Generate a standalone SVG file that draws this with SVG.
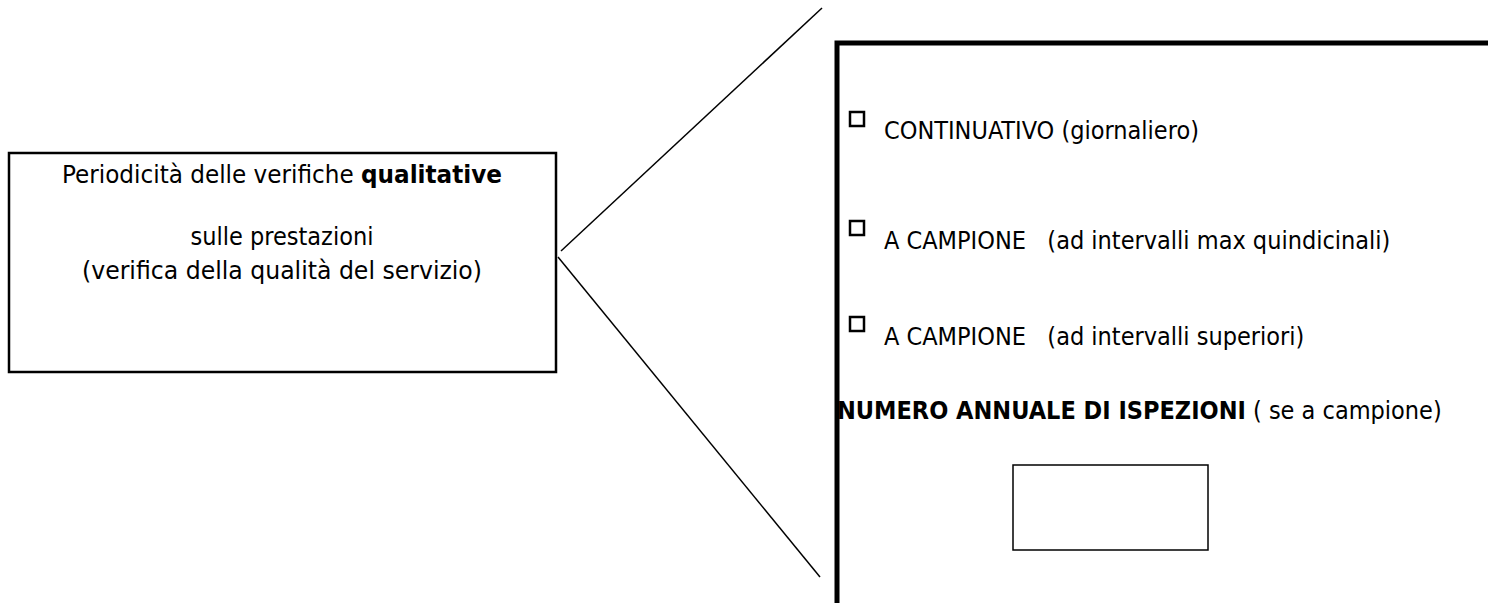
<svg xmlns="http://www.w3.org/2000/svg" width="1488" height="603" viewBox="0 0 1488 603">
<style>
.t{font-family:"DejaVu Sans Condensed","DejaVu Sans",sans-serif;font-size:25px;fill:#000}
.b{font-weight:bold}
.cb{fill:#fff;stroke:#000;stroke-width:2.5}
</style>
<rect width="1488" height="603" fill="#fff"/>
<g id="connectors" stroke="#000" stroke-width="1.5" fill="none">
<line x1="561" y1="251" x2="822" y2="8"/>
<line x1="558" y1="257" x2="820" y2="577"/>
</g>
<g id="node-left">
<rect x="9" y="153" width="547" height="219" fill="#fff" stroke="#000" stroke-width="2.5"/>
<text class="t" x="282" y="183" text-anchor="middle" textLength="440" lengthAdjust="spacingAndGlyphs">Periodicità delle verifiche <tspan class="b">qualitative</tspan></text>
<text class="t" x="282" y="245" text-anchor="middle">sulle prestazioni</text>
<text class="t" x="282" y="279" text-anchor="middle" textLength="400" lengthAdjust="spacingAndGlyphs">(verifica della qualità del servizio)</text>
</g>
<g id="node-right">
<path d="M837 603 V43 H1488" fill="none" stroke="#000" stroke-width="5"/>
<rect class="cb" x="850" y="112" width="14" height="14"/>
<text class="t" x="884" y="139">CONTINUATIVO (giornaliero)</text>
<rect class="cb" x="850" y="221" width="14" height="14"/>
<text class="t" x="884" y="249" xml:space="preserve">A CAMPIONE   (ad intervalli max quindicinali)</text>
<rect class="cb" x="850" y="317" width="14" height="14"/>
<text class="t" x="884" y="345" xml:space="preserve">A CAMPIONE   (ad intervalli superiori)</text>
<text class="t" x="837" y="419"><tspan class="b">NUMERO ANNUALE DI ISPEZIONI</tspan> ( se a campione)</text>
</g>
<g id="node-count">
<rect x="1013" y="465" width="195" height="85" fill="#fff" stroke="#000" stroke-width="1.5"/>
</g>
</svg>
